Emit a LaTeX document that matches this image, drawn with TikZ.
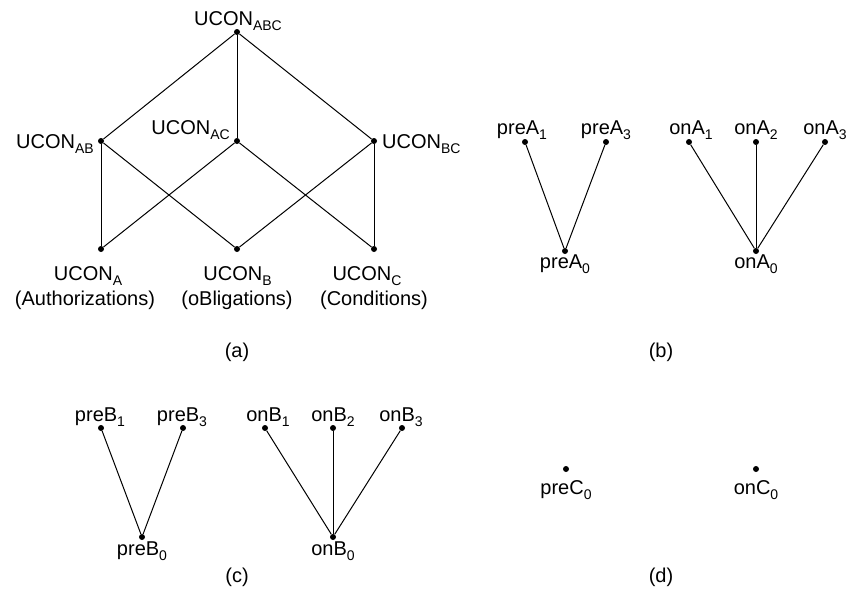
\documentclass[tikz,border=0pt]{standalone}
\usepackage{fontspec}
\setmainfont{Liberation Sans}
\newcommand\sbs[1]{\raisebox{-5.5pt}[0pt][0pt]{\fontsize{14}{14}\selectfont #1}}
\begin{document}
\begin{tikzpicture}[x=1pt,y=-1pt,
 dot/.style={circle,fill=black,inner sep=0pt,minimum size=6pt},
 lab/.style={inner sep=0pt,anchor=base,font=\fontsize{20}{24}\selectfont},
 edge/.style={line width=1pt}]
\useasboundingbox (0,0) rectangle (846,608);
% ---------- (a)
\node[dot] (abc) at (237,32) {};
\node[dot] (ab) at (101,141) {};
\node[dot] (ac) at (237,141) {};
\node[dot] (bc) at (374,141) {};
\node[dot] (a) at (101,249) {};
\node[dot] (b) at (237,249) {};
\node[dot] (c) at (374,249) {};
\draw[edge] (abc) -- (ab);
\draw[edge] (abc) -- (ac);
\draw[edge] (abc) -- (bc);
\draw[edge] (ab) -- (a);
\draw[edge] (ab) -- (b);
\draw[edge] (ac) -- (a);
\draw[edge] (ac) -- (c);
\draw[edge] (bc) -- (b);
\draw[edge] (bc) -- (c);
\node[lab] (labc) at (238,25) {UCON\sbs{ABC}};
\node[lab,anchor=base east] (lab) at (94,148) {UCON\sbs{AB}};
\node[lab,anchor=base east] (lac) at (230,134) {UCON\sbs{AC}};
\node[lab,anchor=base west] (lbc) at (382,148) {UCON\sbs{BC}};
\node[lab] (la) at (88,280) {UCON\sbs{A}};
\node[lab] (la2) at (85,305) {(Authorizations)};
\node[lab] (lb) at (237.5,280) {UCON\sbs{B}};
\node[lab] (lb2) at (237,305) {(oBligations)};
\node[lab] (lc) at (367,280) {UCON\sbs{C}};
\node[lab] (lc2) at (374,305) {(Conditions)};
\node[lab] (capa) at (237,357) {(a)};
% ---------- (b)
\node[dot] (pa1) at (525,142) {};
\node[dot] (pa3) at (606,142) {};
\node[dot] (pa0) at (565,251) {};
\node[dot] (oa1) at (689,142) {};
\node[dot] (oa2) at (756,142) {};
\node[dot] (oa3) at (825,142) {};
\node[dot] (oa0) at (756,251) {};
\draw[edge] (pa0) -- (pa1);
\draw[edge] (pa0) -- (pa3);
\draw[edge] (oa0) -- (oa1);
\draw[edge] (oa0) -- (oa2);
\draw[edge] (oa0) -- (oa3);
\node[lab] (lpa1) at (522,134) {preA\sbs{1}};
\node[lab] (lpa3) at (606,134) {preA\sbs{3}};
\node[lab] (loa1) at (691,134) {onA\sbs{1}};
\node[lab] (loa2) at (756,134) {onA\sbs{2}};
\node[lab] (loa3) at (825,134) {onA\sbs{3}};
\node[lab] (lpa0) at (565,268) {preA\sbs{0}};
\node[lab] (loa0) at (756,268) {onA\sbs{0}};
\node[lab] (capb) at (661,357) {(b)};
% ---------- (c)
\node[dot] (pb1) at (101,428) {};
\node[dot] (pb3) at (183,428) {};
\node[dot] (pb0) at (142,537) {};
\node[dot] (ob1) at (265,428) {};
\node[dot] (ob2) at (333,428) {};
\node[dot] (ob3) at (402,428) {};
\node[dot] (ob0) at (333,537) {};
\draw[edge] (pb0) -- (pb1);
\draw[edge] (pb0) -- (pb3);
\draw[edge] (ob0) -- (ob1);
\draw[edge] (ob0) -- (ob2);
\draw[edge] (ob0) -- (ob3);
\node[lab] (lpb1) at (100,421) {preB\sbs{1}};
\node[lab] (lpb3) at (182,421) {preB\sbs{3}};
\node[lab] (lob1) at (268,421) {onB\sbs{1}};
\node[lab] (lob2) at (333,421) {onB\sbs{2}};
\node[lab] (lob3) at (401,421) {onB\sbs{3}};
\node[lab] (lpb0) at (142,555) {preB\sbs{0}};
\node[lab] (lob0) at (333,555) {onB\sbs{0}};
\node[lab] (capc) at (237,582) {(c)};
% ---------- (d)
\node[dot] (pc0) at (566,469) {};
\node[dot] (oc0) at (756,469) {};
\node[lab] (lpc0) at (566,494) {preC\sbs{0}};
\node[lab] (loc0) at (756,494) {onC\sbs{0}};
\node[lab] (capd) at (661,582) {(d)};
\end{tikzpicture}
\end{document}
